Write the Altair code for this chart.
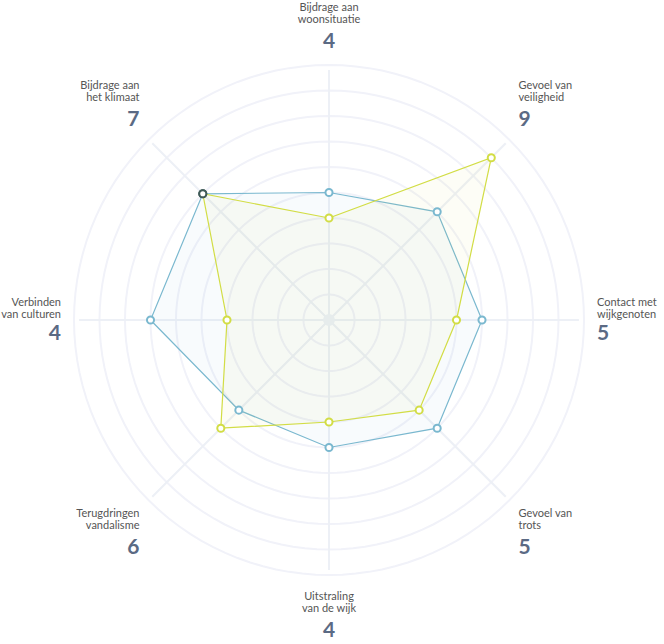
import math
import altair as alt
import pandas as pd

# ---- data ----
categories = ["woonsituatie", "veiligheid", "contact", "trots",
              "uitstraling", "vandalisme", "culturen", "klimaat"]
label_line1 = ["Bijdrage aan", "Gevoel van", "Contact met", "Gevoel van",
               "Uitstraling", "Terugdringen", "Verbinden", "Bijdrage aan"]
label_line2 = ["woonsituatie", "veiligheid", "wijkgenoten", "trots",
               "van de wijk", "vandalisme", "van culturen", "het klimaat"]
blue_values = [5, 6, 6, 6, 5, 5, 7, 7]
yellow_values = [4, 9, 5, 5, 4, 6, 4, 7]
score_labels = [4, 9, 5, 5, 4, 6, 4, 7]
ring_levels = list(range(1, 11))

# ---- layout constants ----
W, H = 664, 644
CX, CY = 329, 320
PX = 25.5            # pixels per unit
SPOKE_R = 9.8
LABEL_R = 268 / PX

BLUE = "#7ab8cf"
YELLOW = "#d2dd45"
DARK = "#3f5a57"
NAME_COLOR = "#555555"
NUM_COLOR = "#5b6a84"

n = len(categories)
angles = [2 * math.pi * i / n for i in range(n)]

xscale = alt.Scale(domain=[-CX / PX, (W - CX) / PX], nice=False, zero=False)
yscale = alt.Scale(domain=[(CY - H) / PX, CY / PX], nice=False, zero=False)
X = lambda f: alt.X(f, type="quantitative", scale=xscale, axis=None)
Y = lambda f: alt.Y(f, type="quantitative", scale=yscale, axis=None)

# rings
ring_rows = []
for r in ring_levels:
    for k in range(0, 120):
        t = 2 * math.pi * k / 120
        ring_rows.append({"ring": r, "k": k, "x": r * math.sin(t), "y": r * math.cos(t)})
rings_df = pd.DataFrame(ring_rows)

# spokes
spoke_rows = []
for i, a in enumerate(angles):
    spoke_rows.append({"cat": categories[i], "x": 0.0, "y": 0.0,
                       "x2": SPOKE_R * math.sin(a), "y2": SPOKE_R * math.cos(a)})
spokes_df = pd.DataFrame(spoke_rows)

center_df = pd.DataFrame({"x": [0.0], "y": [0.0]})


def series_df(values, other):
    rows = []
    for i, (v, a) in enumerate(zip(values, angles)):
        rows.append({"cat": categories[i], "order": i, "value": v,
                     "x": v * math.sin(a), "y": v * math.cos(a),
                     "overlap": v == other[i]})
    return pd.DataFrame(rows)


blue_df = series_df(blue_values, yellow_values)
yellow_df = series_df(yellow_values, blue_values)

# labels
lab_rows = []
for i, a in enumerate(angles):
    s, c = math.sin(a), math.cos(a)
    ax, ay = LABEL_R * s, LABEL_R * c
    align = "left" if s > 0.3 else ("right" if s < -0.3 else "center")
    if c > 0.3:
        offs = (-44, -32, -10)
    elif c < -0.3:
        offs = (9, 21, 43) if align == "center" else (4, 16, 38)
    else:
        offs = (-17, -5, 14)
    lab_rows.append({"align": align, "kind": "name", "text": label_line1[i],
                     "x": ax, "y": ay - offs[0] / PX})
    lab_rows.append({"align": align, "kind": "name", "text": label_line2[i],
                     "x": ax, "y": ay - offs[1] / PX})
    lab_rows.append({"align": align, "kind": "num", "text": str(score_labels[i]),
                     "x": ax, "y": ay - offs[2] / PX})
labels_df = pd.DataFrame(lab_rows)

# ---- layers ----
rings = alt.Chart(rings_df).mark_line(
    color="#f1f2f9", strokeWidth=2, interpolate="linear-closed").encode(
    x=X("x"), y=Y("y"), detail="ring:N", order="k:Q")

spokes = alt.Chart(spokes_df).mark_rule(color="#edf0f6", strokeWidth=2).encode(
    x=X("x"), y=Y("y"), x2="x2:Q", y2="y2:Q")

center = alt.Chart(center_df).mark_point(
    filled=True, color="#eef2f7", size=140, opacity=1).encode(x=X("x"), y=Y("y"))


def polygon(df, color, fill_op):
    return alt.Chart(df).mark_line(
        interpolate="linear-closed", color=color, strokeWidth=1.2,
        fill=color, fillOpacity=fill_op).encode(
        x=X("x"), y=Y("y"), order="order:Q")


def points(df, color):
    return alt.Chart(df).mark_point(
        shape="circle", filled=False, fill="white", fillOpacity=1,
        strokeWidth=2, size=50, opacity=1).encode(
        x=X("x"), y=Y("y"),
        stroke=alt.condition(alt.datum.overlap, alt.value(DARK), alt.value(color)))


layers = [rings, spokes, center,
          polygon(blue_df, BLUE, 0.05), polygon(yellow_df, YELLOW, 0.05),
          points(blue_df, BLUE), points(yellow_df, YELLOW)]

for al in ["left", "center", "right"]:
    names = alt.Chart(labels_df).transform_filter(
        (alt.datum.align == al) & (alt.datum.kind == "name")).mark_text(
        align=al, baseline="middle", font="Lato", fontSize=11,
        color=NAME_COLOR).encode(x=X("x"), y=Y("y"), text="text:N")
    nums = alt.Chart(labels_df).transform_filter(
        (alt.datum.align == al) & (alt.datum.kind == "num")).mark_text(
        align=al, baseline="middle", font="Lato", fontSize=21, fontWeight="bold",
        color=NUM_COLOR).encode(x=X("x"), y=Y("y"), text="text:N")
    layers += [names, nums]

chart = alt.layer(*layers).properties(
    width=W, height=H, padding=0,
    autosize=alt.AutoSizeParams(type="none"),
).configure(background="white").configure_view(stroke=None)

chart.save("out.html", embed_options={"renderer": "svg", "actions": False})
